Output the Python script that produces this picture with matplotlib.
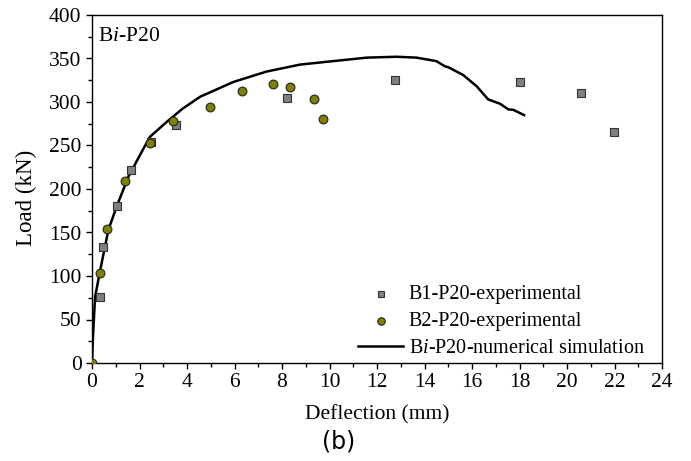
import matplotlib
matplotlib.use("Agg")
import matplotlib.pyplot as plt
from matplotlib.ticker import MultipleLocator

plt.rcParams['font.family'] = ['Liberation Serif', 'DejaVu Serif']
plt.rcParams['mathtext.fontset'] = 'custom'
plt.rcParams['mathtext.rm'] = 'Liberation Serif'
plt.rcParams['mathtext.it'] = 'Liberation Serif:italic'

# B1-P20 experimental (squares)
b1_x = [0.34, 0.45, 1.04, 1.64, 2.47, 3.54, 8.2, 12.76, 18.0, 20.57, 21.99]
b1_y = [76, 133, 180, 222, 254, 274, 305, 325, 323, 310, 265]

# B2-P20 experimental (circles)
b2_x = [0.0, 0.34, 0.62, 1.39, 2.43, 3.42, 4.97, 6.3, 7.6, 8.34, 9.35, 9.74]
b2_y = [0, 104, 154, 209, 253, 278, 294, 313, 321, 317, 303, 280]

# Bi-P20 numerical simulation
sim_x = [0.0, 0.04, 0.13, 0.34, 0.69, 1.04, 1.53, 2.0, 2.44, 3.14, 3.8, 4.55,
         5.95, 7.35, 8.76, 10.16, 11.57, 12.83, 13.66, 14.5, 14.86, 15.0,
         15.63, 16.2, 16.68, 17.18, 17.53, 17.74, 18.19]
sim_y = [0, 30, 76, 106, 153, 180, 214, 238, 260, 277, 292, 306,
         323, 335, 343, 347, 351, 352, 351, 347, 341, 340,
         331, 318, 303, 298, 291.5, 291, 285]

fig = plt.figure(figsize=(6.91, 4.61), dpi=100)
ax = fig.add_axes([92/691, 1 - 363/461, 570/691, 348/461])

ax.plot(sim_x, sim_y, color='black', lw=1.8, zorder=2,
        label=r'B$\it{i}$-P20-numerical simulation')
ax.scatter(b1_x, b1_y, marker='s', s=32, c='#808080', edgecolors='#333333',
           linewidths=0.8, zorder=3, label='B1-P20-experimental')
ax.scatter(b2_x, b2_y, marker='o', s=40, c='#808000', edgecolors='#222222',
           linewidths=0.8, zorder=3, label='B2-P20-experimental')

ax.set_xlim(0, 24)
ax.set_ylim(0, 400)
ax.xaxis.set_major_locator(MultipleLocator(2))
ax.xaxis.set_minor_locator(MultipleLocator(1))
ax.yaxis.set_major_locator(MultipleLocator(50))
ax.yaxis.set_minor_locator(MultipleLocator(25))
ax.tick_params(which='major', direction='out', length=4.5, width=1,
               labelsize=15.5, pad=3)
ax.tick_params(which='minor', direction='out', length=2.6, width=1)
for s in ax.spines.values():
    s.set_linewidth(1)

ax.set_xlabel('Deflection (mm)', fontsize=15.5, labelpad=9)
ax.set_ylabel('Load (kN)', fontsize=16.5)
ax.yaxis.set_label_coords(-0.097, 0.474)
ax.text(0.011, 0.965, r'B$\it{i}$-P20', transform=ax.transAxes,
        fontsize=15.5, va='top', ha='left')

h, l = ax.get_legend_handles_labels()
ax.legend([h[1], h[2], h[0]], [l[1], l[2], l[0]], loc='lower right',
          bbox_to_anchor=(0.989, -0.017), frameon=False, fontsize=14.5,
          handlelength=2.2, handletextpad=0.3, labelspacing=0.38,
          borderaxespad=0.15, markerscale=0.85)

fig.text(339/691, 1 - 441/461, '(b)', fontsize=17, family='DejaVu Sans',
         ha='center', va='center')

fig.savefig('out.png', dpi=100)
